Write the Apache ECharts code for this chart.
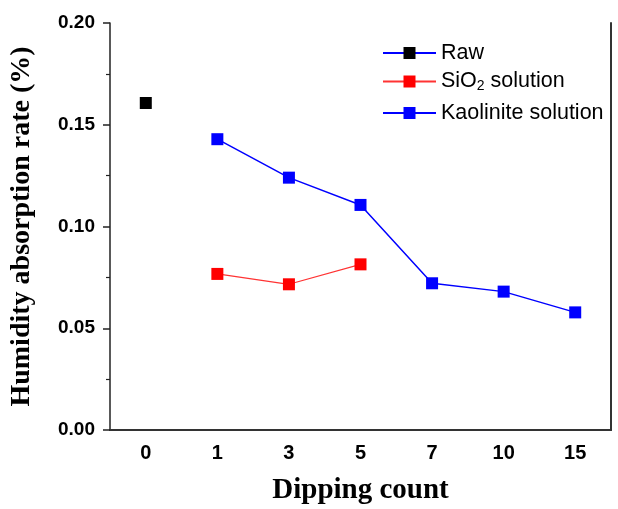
<!DOCTYPE html>
<html>
<head>
    <meta charset="utf-8">
    <title>Humidity absorption rate</title>
    <script src="https://cdn.jsdelivr.net/npm/echarts@6/dist/echarts.min.js"></script>
</head>
<body style="margin: 0">
<div id="container" style="width: 618px; height: 509px"></div>
<script type="text/javascript">
// dipping counts (category axis)
var counts = ['0', '1', '3', '5', '7', '10', '15'];
var rawData = [0.1607, null, null, null, null, null, null];
var sio2Data = [null, 0.0767, 0.0716, 0.0814, null, null, null];
var kaolData = [null, 0.1429, 0.1240, 0.1106, 0.0721, 0.0680, 0.0578];
var yTicks = ['0.00', '0.05', '0.10', '0.15', '0.20'];

var myChart = echarts.init(document.getElementById('container'));

var legendText = {
    fontFamily: 'Liberation Sans, Arial',
    fontSize: 21.5,
    lineHeight: 20,
    color: '#000',
    rich: {
        a: { fontFamily: 'Liberation Sans, Arial', fontSize: 21.5, lineHeight: 20, color: '#000' },
        sub: { fontFamily: 'Liberation Sans, Arial', fontSize: 14, lineHeight: 20, color: '#000', padding: [9, 0, 0, 0] }
    }
};

function oneLegend(name, top) {
    return {
        data: [name],
        left: 382,
        top: top,
        padding: 0,
        itemWidth: 53,
        itemHeight: 15,
        selectedMode: false,
        textStyle: legendText,
        formatter: function (n) {
            if (n === 'SiO2 solution') return '{a|SiO}{sub|2}{a| solution}';
            return n;
        }
    };
}

var option = {
    animation: false,
    grid: { left: 110, right: 7, top: 23, bottom: 79, outerBoundsMode: 'none' },
    legend: [
        oneLegend('Raw', 42),
        oneLegend('SiO2 solution', 70),
        oneLegend('Kaolinite solution', 102)
    ],
    xAxis: [{
        type: 'category',
        data: counts,
        boundaryGap: true,
        name: 'Dipping count',
        nameLocation: 'middle',
        nameGap: 46,
        nameTextStyle: { fontFamily: 'Liberation Serif, Times New Roman', fontWeight: 'bold', fontSize: 29, color: '#000' },
        axisLine: { lineStyle: { color: '#222', width: 1.5 } },
        axisTick: { alignWithLabel: true, length: 7, inside: false, lineStyle: { color: '#222', width: 1.5 } },
        axisLabel: { margin: 13, fontFamily: 'Liberation Sans, Arial', fontWeight: 'bold', fontSize: 20, color: '#000' },
        splitLine: { show: false }
    }, {
        type: 'category',
        data: counts,
        position: 'top',
        axisLine: { lineStyle: { color: '#333', width: 2 } },
        axisTick: { show: false },
        axisLabel: { show: false }
    }],
    yAxis: [{
        type: 'value',
        min: 0,
        max: 0.2,
        interval: 0.05,
        name: 'Humidity absorption rate (%)',
        nameLocation: 'middle',
        nameGap: 74,
        nameTextStyle: { fontFamily: 'Liberation Serif, Times New Roman', fontWeight: 'bold', fontSize: 28, color: '#000' },
        axisLine: { show: true, lineStyle: { color: '#222', width: 1.5 } },
        axisTick: { show: true, length: 7, lineStyle: { color: '#222', width: 1.5 } },
        minorTick: { show: true, splitNumber: 2, length: 4, lineStyle: { color: '#222', width: 1.2 } },
        axisLabel: {
            margin: 15,
            fontFamily: 'Liberation Sans, Arial',
            fontWeight: 'bold',
            fontSize: 19,
            color: '#000',
            formatter: function (v) { return yTicks[Math.round(v / 0.05)]; }
        },
        splitLine: { show: false }
    }, {
        type: 'value',
        min: 0,
        max: 0.2,
        interval: 0.05,
        position: 'right',
        axisLine: { show: true, lineStyle: { color: '#333', width: 2 } },
        axisTick: { show: false },
        axisLabel: { show: false },
        splitLine: { show: false }
    }],
    series: [{
        name: 'Raw',
        type: 'line',
        data: rawData,
        symbol: 'rect',
        symbolSize: 12,
        itemStyle: { color: '#000' },
        lineStyle: { color: '#0000ff', width: 1.5 }
    }, {
        name: 'SiO2 solution',
        type: 'line',
        data: sio2Data,
        symbol: 'rect',
        symbolSize: 12,
        itemStyle: { color: '#ff0000' },
        lineStyle: { color: '#ff3333', width: 1.2 }
    }, {
        name: 'Kaolinite solution',
        type: 'line',
        data: kaolData,
        symbol: 'rect',
        symbolSize: 12,
        itemStyle: { color: '#0000ff' },
        lineStyle: { color: '#0000ff', width: 1.5 }
    }]
};

myChart.setOption(option);
</script>
</body>
</html>
